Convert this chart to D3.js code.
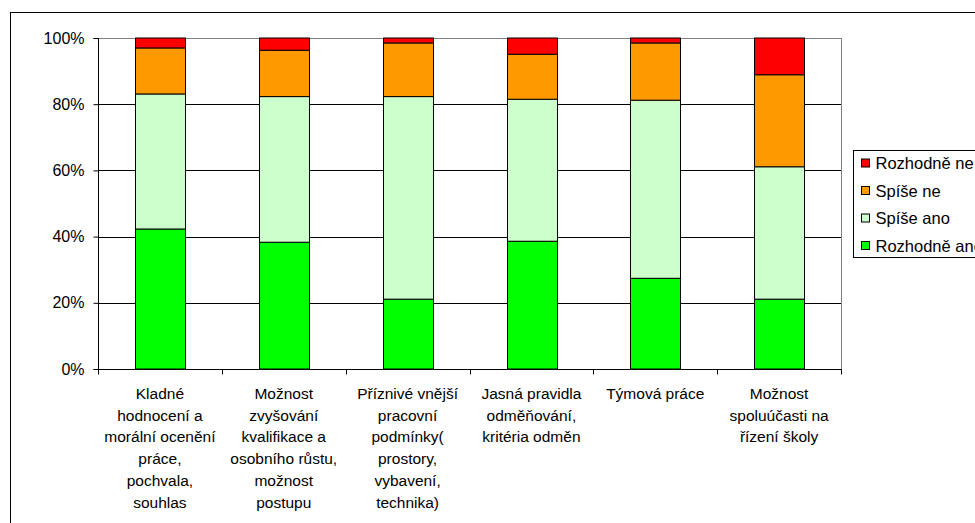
<!DOCTYPE html>
<html>
<head>
<meta charset="utf-8">
<script src="https://cdn.jsdelivr.net/npm/d3@7"></script>
<style>
  html, body { margin: 0; padding: 0; background: #fff; }
  svg { display: block; font-family: "Liberation Sans", Arial, sans-serif; }
</style>
</head>
<body>
<svg id="chart" width="975" height="523"></svg>
<script>
// Category labels, one entry per wrapped line
const categories = [
  ["Kladné", "hodnocení a", "morální ocenění", "práce,", "pochvala,", "souhlas"],
  ["Možnost", "zvyšování", "kvalifikace a", "osobního růstu,", "možnost", "postupu"],
  ["Příznivé vnější", "pracovní", "podmínky(", "prostory,", "vybavení,", "technika)"],
  ["Jasná pravidla", "odměňování,", "kritéria odměn"],
  ["Týmová práce"],
  ["Možnost", "spoluúčasti na", "řízení školy"]
];

// Response shares per category (percent), stacked bottom to top
const rozhodneAno = [42.3, 38.3, 21.1, 38.6, 27.4, 21.1];
const spiseAno    = [40.8, 44.0, 61.2, 42.9, 53.8, 40.0];
const spiseNe     = [13.9, 14.0, 16.2, 13.6, 17.3, 27.8];
const rozhodneNe  = [3.0, 3.7, 1.5, 4.9, 1.5, 11.1];

const seriesNames  = ["Rozhodně ano", "Spíše ano", "Spíše ne", "Rozhodně ne"];
const seriesColors = ["#00ff00", "#ccffcc", "#ff9900", "#ff0000"];
const yTicks = [0, 20, 40, 60, 80, 100];

const svg = d3.select("#chart");

// Outer chart frame
svg.append("rect")
  .attr("x", 10.5).attr("y", 12.5)
  .attr("width", 1000).attr("height", 600)
  .attr("fill", "#fff").attr("stroke", "#000").attr("stroke-width", 1);

const plot = { left: 98, right: 841, top: 38, bottom: 369 };

const x = d3.scaleBand()
  .domain(d3.range(categories.length))
  .range([plot.left, plot.right])
  .paddingInner(0.6).paddingOuter(0.3);

const y = d3.scaleLinear().domain([0, 100]).range([plot.bottom, plot.top]);

// Horizontal gridlines
svg.append("g")
  .selectAll("line")
  .data(yTicks.filter(t => t > 0))
  .join("line")
  .attr("x1", plot.left).attr("x2", plot.right)
  .attr("y1", d => Math.round(y(d)) + 0.5).attr("y2", d => Math.round(y(d)) + 0.5)
  .attr("stroke", d => d === 100 ? "#808080" : "#000")
  .attr("stroke-width", 1);

// Right border of plot area
svg.append("line")
  .attr("x1", plot.right + 0.5).attr("x2", plot.right + 0.5)
  .attr("y1", plot.top).attr("y2", plot.bottom)
  .attr("stroke", "#808080");

// Stacked bars
const rows = categories.map((c, i) => ({
  i,
  "Rozhodně ano": rozhodneAno[i],
  "Spíše ano": spiseAno[i],
  "Spíše ne": spiseNe[i],
  "Rozhodně ne": rozhodneNe[i]
}));
const stacked = d3.stack().keys(seriesNames)(rows);

svg.append("g")
  .selectAll("g")
  .data(stacked)
  .join("g")
  .attr("fill", (d, k) => seriesColors[k])
  .selectAll("rect")
  .data(d => d)
  .join("rect")
  .attr("x", d => Math.round(x(d.data.i)) + 0.5)
  .attr("width", Math.round(x.bandwidth()))
  .attr("y", d => y(d[1]))
  .attr("height", d => y(d[0]) - y(d[1]))
  .attr("stroke", "#000")
  .attr("stroke-width", 1);

// Y axis
const yAxis = d3.axisLeft(y)
  .tickValues(yTicks)
  .tickFormat(d => d + "%")
  .tickSize(5)
  .tickPadding(9);
const gy = svg.append("g")
  .attr("transform", `translate(${plot.left + 0.5},0)`)
  .call(yAxis);
gy.select(".domain").attr("stroke", "#000").attr("d", `M-5,${plot.top + 0.5}H0V${plot.bottom + 0.5}H-5`);
gy.selectAll(".tick line").attr("stroke", "#000");
gy.selectAll(".tick text").attr("font-size", 16).attr("fill", "#000")
  .attr("font-family", '"Liberation Sans", Arial, sans-serif');

// X axis with ticks between categories
const gx = svg.append("g").attr("transform", `translate(0,${plot.bottom + 0.5})`);
gx.append("line")
  .attr("x1", plot.left).attr("x2", plot.right + 1)
  .attr("stroke", "#000");
gx.selectAll("line.tick")
  .data(d3.range(categories.length + 1))
  .join("line")
  .attr("class", "tick")
  .attr("x1", d => Math.round(plot.left + d * (plot.right - plot.left) / categories.length) + 0.5)
  .attr("x2", d => Math.round(plot.left + d * (plot.right - plot.left) / categories.length) + 0.5)
  .attr("y1", 0).attr("y2", 5)
  .attr("stroke", "#000");

// Category labels
gx.selectAll("text.cat")
  .data(categories)
  .join("text")
  .attr("class", "cat")
  .attr("text-anchor", "middle")
  .attr("font-size", 15.5)
  .attr("fill", "#000")
  .each(function (lines, i) {
    const cx = x(i) + x.bandwidth() / 2;
    d3.select(this).selectAll("tspan")
      .data(lines)
      .join("tspan")
      .attr("x", cx)
      .attr("y", (d, j) => 29.5 + j * 21.7)
      .text(d => d);
  });

// Legend (top series listed first)
const legend = svg.append("g").attr("transform", "translate(853.5,150.5)");
legend.append("rect")
  .attr("width", 200).attr("height", 107)
  .attr("fill", "#fff").attr("stroke", "#000");
const legendItems = seriesNames.map((n, k) => ({ n, c: seriesColors[k] })).reverse();
const li = legend.selectAll("g.item")
  .data(legendItems)
  .join("g")
  .attr("class", "item")
  .attr("transform", (d, j) => `translate(0,${13 + j * 27.5})`);
li.append("rect")
  .attr("x", 8).attr("y", -4.5)
  .attr("width", 8).attr("height", 8)
  .attr("fill", d => d.c).attr("stroke", "#000");
li.append("text")
  .attr("x", 22).attr("y", 5.5)
  .attr("font-size", 16.5).attr("fill", "#000")
  .text(d => d.n);
</script>
</body>
</html>
